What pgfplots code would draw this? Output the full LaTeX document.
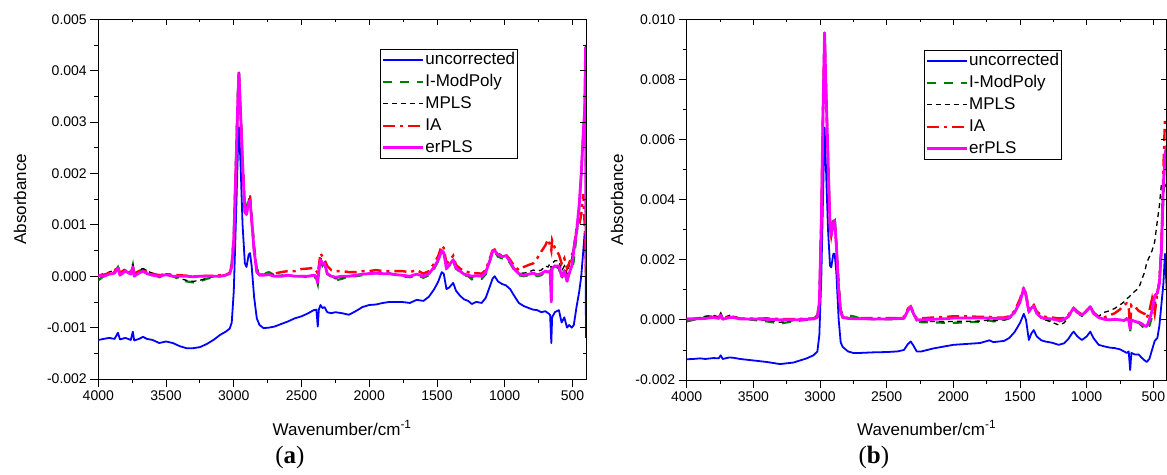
\documentclass[border=0pt]{standalone}
\usepackage{fontspec}
\setmainfont{Liberation Sans}
\newfontfamily\panelfont{Liberation Serif}
\usepackage{pgfplots}
\usepackage{pgfplotstable}
\pgfplotsset{compat=1.18}

% panel (a): wavenumber, uncorrected, I-ModPoly, MPLS, IA, erPLS
\pgfplotstableread{
w unc imp mpls ia erpls
4000 -1.24e-3 -0.08e-3 0.02e-3 0.00e-3 0.02e-3
3960 -1.22e-3 0.00e-3 0.05e-3 0.03e-3 0.00e-3
3920 -1.20e-3 0.05e-3 0.08e-3 0.06e-3 0.04e-3
3880 -1.22e-3 0.08e-3 0.12e-3 0.10e-3 0.06e-3
3855 -1.10e-3 0.18e-3 0.15e-3 0.20e-3 0.16e-3
3840 -1.23e-3 0.05e-3 0.08e-3 0.06e-3 0.02e-3
3800 -1.20e-3 0.10e-3 0.12e-3 0.14e-3 0.10e-3
3760 -1.24e-3 0.06e-3 0.08e-3 0.08e-3 0.04e-3
3745 -1.08e-3 0.22e-3 0.24e-3 0.18e-3 0.18e-3
3735 -1.25e-3 0.02e-3 0.05e-3 0.05e-3 0.00e-3
3700 -1.22e-3 0.10e-3 0.12e-3 0.10e-3 0.06e-3
3670 -1.18e-3 0.14e-3 0.15e-3 0.12e-3 0.10e-3
3640 -1.22e-3 0.10e-3 0.10e-3 0.08e-3 0.05e-3
3600 -1.24e-3 0.05e-3 0.06e-3 0.05e-3 0.02e-3
3550 -1.30e-3 -0.02e-3 0.00e-3 0.02e-3 0.00e-3
3500 -1.27e-3 0.04e-3 0.05e-3 0.04e-3 0.03e-3
3450 -1.30e-3 0.00e-3 0.02e-3 0.03e-3 0.00e-3
3400 -1.36e-3 -0.06e-3 -0.04e-3 0.02e-3 0.00e-3
3350 -1.40e-3 -0.10e-3 -0.08e-3 0.01e-3 0.00e-3
3300 -1.40e-3 -0.12e-3 -0.10e-3 0.00e-3 -0.01e-3
3250 -1.38e-3 -0.10e-3 -0.08e-3 0.00e-3 0.00e-3
3200 -1.32e-3 -0.05e-3 -0.04e-3 0.01e-3 0.00e-3
3150 -1.24e-3 -0.02e-3 -0.01e-3 0.01e-3 0.00e-3
3100 -1.14e-3 0.00e-3 0.00e-3 0.02e-3 0.00e-3
3060 -1.08e-3 0.02e-3 0.02e-3 0.03e-3 0.02e-3
3030 -1.02e-3 0.10e-3 0.08e-3 0.06e-3 0.05e-3
3015 -0.90e-3 0.25e-3 0.22e-3 0.20e-3 0.18e-3
3000 -0.30e-3 0.80e-3 0.75e-3 0.70e-3 0.70e-3
2985 1.00e-3 2.20e-3 2.10e-3 2.00e-3 2.00e-3
2970 2.40e-3 3.60e-3 3.50e-3 3.40e-3 3.40e-3
2962 2.90e-3 4.05e-3 4.00e-3 3.90e-3 3.95e-3
2950 2.20e-3 3.30e-3 3.20e-3 3.20e-3 3.20e-3
2935 1.00e-3 2.30e-3 2.20e-3 2.20e-3 2.20e-3
2918 0.25e-3 1.35e-3 1.30e-3 1.25e-3 1.25e-3
2906 0.18e-3 1.30e-3 1.25e-3 1.20e-3 1.20e-3
2890 0.42e-3 1.55e-3 1.50e-3 1.45e-3 1.45e-3
2880 0.45e-3 1.58e-3 1.52e-3 1.50e-3 1.48e-3
2868 0.20e-3 1.20e-3 1.15e-3 1.10e-3 1.10e-3
2850 -0.40e-3 0.60e-3 0.55e-3 0.50e-3 0.50e-3
2830 -0.82e-3 0.15e-3 0.12e-3 0.10e-3 0.08e-3
2810 -0.95e-3 0.05e-3 0.03e-3 0.03e-3 0.02e-3
2780 -1.01e-3 0.05e-3 0.04e-3 0.03e-3 0.02e-3
2740 -1.00e-3 0.08e-3 0.05e-3 0.04e-3 0.03e-3
2700 -0.98e-3 0.02e-3 0.02e-3 0.05e-3 0.00e-3
2650 -0.93e-3 0.00e-3 0.02e-3 0.08e-3 0.00e-3
2600 -0.88e-3 0.02e-3 0.03e-3 0.10e-3 0.02e-3
2550 -0.82e-3 0.00e-3 0.00e-3 0.10e-3 0.00e-3
2500 -0.78e-3 0.00e-3 0.00e-3 0.14e-3 0.00e-3
2450 -0.72e-3 -0.02e-3 0.00e-3 0.15e-3 0.00e-3
2410 -0.66e-3 0.00e-3 0.02e-3 0.16e-3 0.02e-3
2390 -0.65e-3 -0.05e-3 0.00e-3 0.10e-3 0.00e-3
2380 -0.98e-3 -0.15e-3 -0.12e-3 0.05e-3 -0.13e-3
2372 -0.65e-3 0.10e-3 0.12e-3 0.20e-3 0.10e-3
2360 -0.56e-3 0.35e-3 0.38e-3 0.45e-3 0.32e-3
2345 -0.62e-3 0.20e-3 0.22e-3 0.38e-3 0.25e-3
2330 -0.60e-3 0.25e-3 0.25e-3 0.32e-3 0.25e-3
2310 -0.70e-3 0.05e-3 0.06e-3 0.20e-3 0.05e-3
2280 -0.72e-3 -0.02e-3 0.00e-3 0.12e-3 0.00e-3
2250 -0.70e-3 -0.08e-3 -0.05e-3 0.10e-3 -0.02e-3
2200 -0.72e-3 -0.05e-3 -0.03e-3 0.10e-3 0.00e-3
2150 -0.75e-3 0.00e-3 0.00e-3 0.08e-3 0.00e-3
2100 -0.68e-3 0.00e-3 0.02e-3 0.08e-3 0.02e-3
2050 -0.60e-3 0.02e-3 0.04e-3 0.10e-3 0.04e-3
2000 -0.56e-3 0.05e-3 0.06e-3 0.10e-3 0.05e-3
1950 -0.55e-3 0.06e-3 0.06e-3 0.12e-3 0.06e-3
1900 -0.52e-3 0.05e-3 0.05e-3 0.10e-3 0.05e-3
1850 -0.50e-3 0.05e-3 0.06e-3 0.10e-3 0.05e-3
1800 -0.50e-3 0.02e-3 0.03e-3 0.10e-3 0.03e-3
1760 -0.50e-3 0.00e-3 0.02e-3 0.10e-3 0.02e-3
1700 -0.52e-3 -0.02e-3 0.00e-3 0.08e-3 0.00e-3
1650 -0.46e-3 0.02e-3 0.04e-3 0.12e-3 0.04e-3
1600 -0.48e-3 -0.03e-3 0.00e-3 0.05e-3 0.00e-3
1560 -0.40e-3 0.02e-3 0.04e-3 0.10e-3 0.05e-3
1520 -0.25e-3 0.15e-3 0.18e-3 0.25e-3 0.18e-3
1490 -0.10e-3 0.30e-3 0.32e-3 0.40e-3 0.32e-3
1465 0.08e-3 0.48e-3 0.50e-3 0.60e-3 0.50e-3
1450 0.05e-3 0.45e-3 0.45e-3 0.55e-3 0.46e-3
1430 -0.25e-3 0.15e-3 0.15e-3 0.25e-3 0.15e-3
1410 -0.22e-3 0.20e-3 0.22e-3 0.30e-3 0.22e-3
1380 -0.13e-3 0.30e-3 0.32e-3 0.40e-3 0.32e-3
1360 -0.28e-3 0.15e-3 0.16e-3 0.22e-3 0.16e-3
1330 -0.38e-3 0.08e-3 0.10e-3 0.15e-3 0.10e-3
1300 -0.45e-3 0.02e-3 0.04e-3 0.10e-3 0.04e-3
1270 -0.48e-3 0.00e-3 0.02e-3 0.08e-3 0.02e-3
1243 -0.54e-3 -0.06e-3 -0.02e-3 0.05e-3 0.00e-3
1210 -0.50e-3 -0.04e-3 0.00e-3 0.06e-3 0.01e-3
1170 -0.52e-3 -0.05e-3 0.00e-3 0.05e-3 0.00e-3
1140 -0.42e-3 0.04e-3 0.08e-3 0.12e-3 0.08e-3
1110 -0.20e-3 0.30e-3 0.32e-3 0.35e-3 0.30e-3
1090 -0.05e-3 0.45e-3 0.48e-3 0.50e-3 0.48e-3
1074 0.00e-3 0.48e-3 0.50e-3 0.52e-3 0.50e-3
1050 -0.10e-3 0.38e-3 0.42e-3 0.44e-3 0.42e-3
1020 -0.15e-3 0.35e-3 0.38e-3 0.40e-3 0.38e-3
990 -0.18e-3 0.36e-3 0.40e-3 0.42e-3 0.40e-3
960 -0.25e-3 0.25e-3 0.30e-3 0.32e-3 0.28e-3
930 -0.38e-3 0.12e-3 0.16e-3 0.20e-3 0.14e-3
896 -0.52e-3 0.02e-3 0.06e-3 0.12e-3 0.05e-3
860 -0.58e-3 0.00e-3 0.06e-3 0.18e-3 0.02e-3
822 -0.62e-3 0.02e-3 0.08e-3 0.22e-3 0.04e-3
790 -0.65e-3 0.05e-3 0.12e-3 0.25e-3 0.06e-3
760 -0.66e-3 0.00e-3 0.10e-3 0.35e-3 0.03e-3
730 -0.70e-3 0.02e-3 0.12e-3 0.48e-3 0.05e-3
700 -0.68e-3 0.08e-3 0.20e-3 0.60e-3 0.10e-3
680 -0.72e-3 0.05e-3 0.18e-3 0.72e-3 0.08e-3
665 -0.75e-3 0.10e-3 0.25e-3 0.60e-3 0.10e-3
656 -1.30e-3 0.00e-3 0.15e-3 0.50e-3 -0.50e-3
650 -0.80e-3 0.15e-3 0.25e-3 0.70e-3 0.15e-3
630 -0.70e-3 0.20e-3 0.30e-3 0.55e-3 0.20e-3
600 -0.66e-3 0.15e-3 0.30e-3 0.42e-3 0.20e-3
580 -0.90e-3 -0.05e-3 0.10e-3 0.25e-3 0.00e-3
560 -0.80e-3 0.08e-3 0.20e-3 0.35e-3 0.10e-3
540 -1.00e-3 -0.10e-3 0.05e-3 0.15e-3 -0.10e-3
525 -0.95e-3 0.05e-3 0.20e-3 0.25e-3 0.05e-3
505 -1.00e-3 0.10e-3 0.35e-3 0.40e-3 0.20e-3
490 -0.95e-3 0.30e-3 0.60e-3 0.55e-3 0.50e-3
470 -0.60e-3 0.80e-3 1.00e-3 0.90e-3 0.85e-3
450 -0.30e-3 1.30e-3 1.30e-3 1.00e-3 1.40e-3
435 0.00e-3 2.00e-3 1.90e-3 1.20e-3 2.00e-3
420 0.50e-3 2.80e-3 2.70e-3 1.60e-3 2.80e-3
410 0.84e-3 3.30e-3 3.30e-3 1.00e-3 3.20e-3
403 0.60e-3 4.40e-3 4.50e-3 0.60e-3 4.45e-3
400 -1.20e-3 0.50e-3 0.80e-3 0.00e-3 0.20e-3
}\dataA

% panel (b)
\pgfplotstableread{
w unc imp mpls ia erpls
4000 -1.31e-3 -0.05e-3 0.02e-3 0.03e-3 0.03e-3
3950 -1.30e-3 0.00e-3 0.05e-3 0.04e-3 0.03e-3
3900 -1.28e-3 0.05e-3 0.08e-3 0.06e-3 0.04e-3
3860 -1.30e-3 0.10e-3 0.12e-3 0.05e-3 0.05e-3
3800 -1.27e-3 0.12e-3 0.15e-3 0.10e-3 0.08e-3
3760 -1.28e-3 0.08e-3 0.10e-3 0.06e-3 0.05e-3
3745 -1.18e-3 0.20e-3 0.22e-3 0.15e-3 0.15e-3
3730 -1.30e-3 0.05e-3 0.06e-3 0.05e-3 0.02e-3
3680 -1.25e-3 0.12e-3 0.15e-3 0.10e-3 0.08e-3
3650 -1.26e-3 0.10e-3 0.12e-3 0.10e-3 0.08e-3
3600 -1.30e-3 0.05e-3 0.05e-3 0.04e-3 0.03e-3
3500 -1.35e-3 0.00e-3 0.02e-3 0.04e-3 0.03e-3
3400 -1.40e-3 -0.05e-3 -0.02e-3 0.05e-3 0.02e-3
3300 -1.47e-3 -0.12e-3 -0.08e-3 0.03e-3 0.00e-3
3200 -1.42e-3 -0.05e-3 -0.03e-3 0.03e-3 0.00e-3
3100 -1.28e-3 0.00e-3 0.02e-3 0.04e-3 0.02e-3
3050 -1.18e-3 0.05e-3 0.06e-3 0.05e-3 0.03e-3
3020 -1.05e-3 0.15e-3 0.12e-3 0.10e-3 0.08e-3
3005 -0.50e-3 0.70e-3 0.60e-3 0.60e-3 0.60e-3
2990 1.50e-3 3.50e-3 3.20e-3 3.30e-3 3.30e-3
2978 4.00e-3 7.00e-3 6.80e-3 6.80e-3 6.80e-3
2966 6.40e-3 9.62e-3 9.50e-3 9.50e-3 9.55e-3
2955 5.00e-3 7.80e-3 7.60e-3 7.60e-3 7.60e-3
2940 3.00e-3 5.50e-3 5.40e-3 5.30e-3 5.30e-3
2925 1.80e-3 3.30e-3 3.20e-3 3.10e-3 3.10e-3
2916 1.75e-3 2.90e-3 2.85e-3 2.80e-3 2.80e-3
2900 2.20e-3 3.35e-3 3.30e-3 3.25e-3 3.25e-3
2890 2.20e-3 3.40e-3 3.35e-3 3.30e-3 3.30e-3
2878 1.60e-3 2.60e-3 2.50e-3 2.50e-3 2.50e-3
2860 0.00e-3 1.20e-3 1.10e-3 1.00e-3 1.00e-3
2845 -0.75e-3 0.35e-3 0.30e-3 0.30e-3 0.28e-3
2830 -0.90e-3 0.12e-3 0.10e-3 0.08e-3 0.08e-3
2790 -1.05e-3 0.15e-3 0.08e-3 0.06e-3 0.05e-3
2750 -1.10e-3 0.12e-3 0.06e-3 0.05e-3 0.04e-3
2700 -1.10e-3 0.05e-3 0.05e-3 0.06e-3 0.04e-3
2600 -1.08e-3 0.02e-3 0.03e-3 0.06e-3 0.03e-3
2500 -1.07e-3 0.02e-3 0.02e-3 0.06e-3 0.03e-3
2420 -1.05e-3 0.02e-3 0.02e-3 0.06e-3 0.04e-3
2370 -1.00e-3 0.05e-3 0.05e-3 0.10e-3 0.06e-3
2340 -0.80e-3 0.30e-3 0.30e-3 0.38e-3 0.32e-3
2320 -0.72e-3 0.42e-3 0.42e-3 0.45e-3 0.44e-3
2300 -0.85e-3 0.20e-3 0.20e-3 0.25e-3 0.22e-3
2275 -1.05e-3 -0.05e-3 -0.03e-3 0.05e-3 0.00e-3
2240 -1.05e-3 -0.08e-3 -0.05e-3 0.05e-3 0.00e-3
2150 -0.95e-3 -0.08e-3 -0.05e-3 0.08e-3 0.02e-3
2050 -0.87e-3 -0.10e-3 -0.06e-3 0.10e-3 0.04e-3
2000 -0.83e-3 -0.10e-3 -0.05e-3 0.12e-3 0.06e-3
1900 -0.80e-3 -0.08e-3 -0.05e-3 0.12e-3 0.06e-3
1800 -0.77e-3 -0.06e-3 -0.04e-3 0.10e-3 0.06e-3
1730 -0.68e-3 -0.02e-3 0.00e-3 0.10e-3 0.06e-3
1700 -0.74e-3 -0.05e-3 -0.03e-3 0.08e-3 0.05e-3
1620 -0.70e-3 0.00e-3 0.00e-3 0.08e-3 0.05e-3
1580 -0.60e-3 0.05e-3 0.05e-3 0.12e-3 0.08e-3
1540 -0.40e-3 0.25e-3 0.25e-3 0.30e-3 0.25e-3
1500 -0.10e-3 0.60e-3 0.60e-3 0.70e-3 0.60e-3
1472 0.20e-3 1.02e-3 1.00e-3 1.10e-3 1.05e-3
1455 0.00e-3 0.80e-3 0.78e-3 0.85e-3 0.80e-3
1434 -0.67e-3 0.27e-3 0.25e-3 0.35e-3 0.27e-3
1415 -0.45e-3 0.38e-3 0.38e-3 0.45e-3 0.40e-3
1397 -0.34e-3 0.46e-3 0.45e-3 0.50e-3 0.46e-3
1375 -0.55e-3 0.22e-3 0.20e-3 0.28e-3 0.22e-3
1340 -0.68e-3 0.08e-3 0.05e-3 0.15e-3 0.08e-3
1310 -0.72e-3 0.02e-3 0.00e-3 0.10e-3 0.05e-3
1260 -0.76e-3 -0.03e-3 -0.08e-3 0.08e-3 0.03e-3
1210 -0.83e-3 -0.06e-3 -0.17e-3 0.05e-3 -0.02e-3
1170 -0.78e-3 0.00e-3 -0.10e-3 0.06e-3 0.02e-3
1140 -0.65e-3 0.10e-3 0.05e-3 0.15e-3 0.10e-3
1110 -0.45e-3 0.30e-3 0.28e-3 0.35e-3 0.32e-3
1098 -0.39e-3 0.38e-3 0.36e-3 0.40e-3 0.39e-3
1070 -0.55e-3 0.25e-3 0.22e-3 0.28e-3 0.25e-3
1036 -0.67e-3 0.15e-3 0.12e-3 0.18e-3 0.16e-3
1000 -0.55e-3 0.30e-3 0.30e-3 0.32e-3 0.30e-3
973 -0.39e-3 0.45e-3 0.45e-3 0.44e-3 0.44e-3
950 -0.60e-3 0.25e-3 0.28e-3 0.25e-3 0.22e-3
910 -0.83e-3 0.08e-3 0.12e-3 0.10e-3 0.08e-3
870 -0.88e-3 0.00e-3 0.25e-3 0.08e-3 0.02e-3
830 -0.92e-3 0.00e-3 0.30e-3 0.15e-3 0.00e-3
790 -0.94e-3 0.00e-3 0.38e-3 0.22e-3 0.02e-3
750 -0.98e-3 0.02e-3 0.50e-3 0.35e-3 0.00e-3
720 -1.05e-3 0.00e-3 0.60e-3 0.50e-3 -0.02e-3
700 -1.10e-3 0.05e-3 0.70e-3 0.55e-3 0.02e-3
685 -1.05e-3 0.00e-3 0.75e-3 0.45e-3 0.00e-3
674 -1.67e-3 -0.40e-3 0.80e-3 -0.30e-3 -0.30e-3
665 -1.10e-3 0.00e-3 0.85e-3 0.50e-3 0.00e-3
640 -1.15e-3 -0.05e-3 0.95e-3 0.45e-3 -0.05e-3
610 -1.15e-3 -0.10e-3 1.05e-3 0.30e-3 -0.08e-3
590 -1.25e-3 -0.18e-3 1.30e-3 0.25e-3 -0.12e-3
565 -1.35e-3 -0.30e-3 1.60e-3 0.20e-3 -0.20e-3
550 -1.40e-3 -0.33e-3 1.90e-3 0.05e-3 -0.22e-3
530 -1.30e-3 -0.20e-3 2.10e-3 0.30e-3 0.00e-3
510 -1.00e-3 0.10e-3 2.30e-3 0.70e-3 0.30e-3
490 -0.70e-3 0.50e-3 2.60e-3 0.20e-3 0.80e-3
470 -0.60e-3 0.90e-3 3.30e-3 0.90e-3 0.90e-3
455 -0.20e-3 1.30e-3 3.80e-3 1.30e-3 1.20e-3
440 0.50e-3 2.20e-3 4.50e-3 2.50e-3 2.30e-3
425 1.20e-3 4.00e-3 4.30e-3 5.00e-3 4.50e-3
413 2.20e-3 5.50e-3 4.50e-3 6.70e-3 5.50e-3
400 1.00e-3 5.80e-3 4.40e-3 6.60e-3 5.80e-3
}\dataB

\definecolor{cblue}{RGB}{0,0,255}
\definecolor{cgreen}{RGB}{0,128,0}
\definecolor{cred}{RGB}{255,0,0}
\definecolor{cmag}{RGB}{255,0,255}

\pgfplotsset{
  frame/.style={
    scale only axis, x dir=reverse, xmin=400, xmax=4000,
    xtick={500,1000,1500,2000,2500,3000,3500,4000}, minor x tick num=1,
    axis line style={line width=0.8pt, black},
    tick style={line width=0.8pt, black},
    scaled y ticks=false, scaled x ticks=false,
  },
  mainax/.style={
    frame, clip=true,
    tick align=outside, xtick pos=bottom, ytick pos=left,
    major tick length=8pt, minor tick length=4pt,
    /pgf/number format/assume math mode=true,
    tick label style={font=\fontsize{14}{16}\selectfont},
    xticklabel style={/pgf/number format/1000 sep={}},
    yticklabel style={/pgf/number format/.cd, fixed, fixed zerofill, precision=3, /tikz/.cd},
    label style={font=\fontsize{17}{19}\selectfont},
    legend style={draw=black, line width=0.8pt, inner sep=1pt, anchor=north west,
      font=\fontsize{17}{19}\selectfont, row sep=3.3pt,
      nodes={inner sep=1.2pt, text height=12.5pt, text depth=3.8pt},
      cells={anchor=west}},
    legend image code/.code={\draw[##1] plot coordinates {(0pt,0pt) (20pt,0pt) (40pt,0pt)};},
  },
  overax/.style={
    frame, clip=false,
    axis x line*=top, axis y line*=right,
    tick align=inside, major tick length=6pt, minor tick length=3pt,
    xticklabels={}, yticklabels={},
  },
  sUnc/.style={cblue, line width=1.8pt, line join=round},
  sImp/.style={cgreen, line width=2.2pt, dash pattern=on 9pt off 8pt},
  sMpls/.style={black, line width=1.3pt, dash pattern=on 5pt off 4pt},
  sIa/.style={cred, line width=2.4pt, dash pattern=on 12pt off 5pt on 3pt off 5pt},
  sEr/.style={cmag, line width=2.8pt, line join=round},
}

\begin{document}
\begin{tikzpicture}
\useasboundingbox (0pt,0pt) rectangle (1167pt,474pt);

% ---------- panel (a) ----------
\begin{axis}[mainax, at={(98.3pt,95pt)}, anchor=south west,
  width=487.7pt, height=359.7pt,
  ymin=-0.002, ymax=0.005,
  ytick={-0.002,-0.001,0,0.001,0.002,0.003,0.004,0.005}, minor y tick num=1,
  xlabel={Wavenumber/cm\textsuperscript{-1}},
  ylabel={Absorbance},
  xlabel style={at={(axis description cs:0.5,-0.136)}, anchor=center},
  ylabel style={at={(axis description cs:-0.1606,0.5)}, anchor=center},
  legend style={at={(axis description cs:0.5776,0.9174)}},
]
\addplot[sUnc] table[x=w, y=unc] {\dataA};
\addplot[sImp] table[x=w, y=imp] {\dataA};
\addplot[sMpls] table[x=w, y=mpls] {\dataA};
\addplot[sIa] table[x=w, y=ia] {\dataA};
\addplot[sEr] table[x=w, y=erpls] {\dataA};
\legend{uncorrected, I-ModPoly, MPLS, IA, erPLS}
\end{axis}
\begin{axis}[overax, at={(98.3pt,95pt)}, anchor=south west,
  width=487.7pt, height=359.7pt,
  ymin=-0.002, ymax=0.005,
  ytick={-0.002,-0.001,0,0.001,0.002,0.003,0.004,0.005}, minor y tick num=1]
\node[font=\panelfont\fontsize{25}{27}\selectfont] at (axis description cs:0.393,-0.217) {(\textbf{a})};
\end{axis}

% ---------- panel (b) ----------
\begin{axis}[mainax, at={(686.7pt,94pt)}, anchor=south west,
  width=480pt, height=360.7pt,
  ymin=-0.002, ymax=0.010,
  ytick={-0.002,0,0.002,0.004,0.006,0.008,0.010}, minor y tick num=1,
  xlabel={Wavenumber/cm\textsuperscript{-1}},
  ylabel={Absorbance},
  xlabel style={at={(axis description cs:0.5,-0.133)}, anchor=center},
  ylabel style={at={(axis description cs:-0.145,0.5)}, anchor=center},
  legend style={at={(axis description cs:0.494,0.915)}},
]
\addplot[sUnc] table[x=w, y=unc] {\dataB};
\addplot[sImp] table[x=w, y=imp] {\dataB};
\addplot[sMpls] table[x=w, y=mpls] {\dataB};
\addplot[sIa] table[x=w, y=ia] {\dataB};
\addplot[sEr] table[x=w, y=erpls] {\dataB};
\legend{uncorrected, I-ModPoly, MPLS, IA, erPLS}
\end{axis}
\begin{axis}[overax, at={(686.7pt,94pt)}, anchor=south west,
  width=480pt, height=360.7pt,
  ymin=-0.002, ymax=0.010,
  ytick={-0.002,0,0.002,0.004,0.006,0.008,0.010}, minor y tick num=1]
\node[font=\panelfont\fontsize{25}{27}\selectfont] at (axis description cs:0.39,-0.2135) {(\textbf{b})};
\end{axis}
\end{tikzpicture}
\end{document}
